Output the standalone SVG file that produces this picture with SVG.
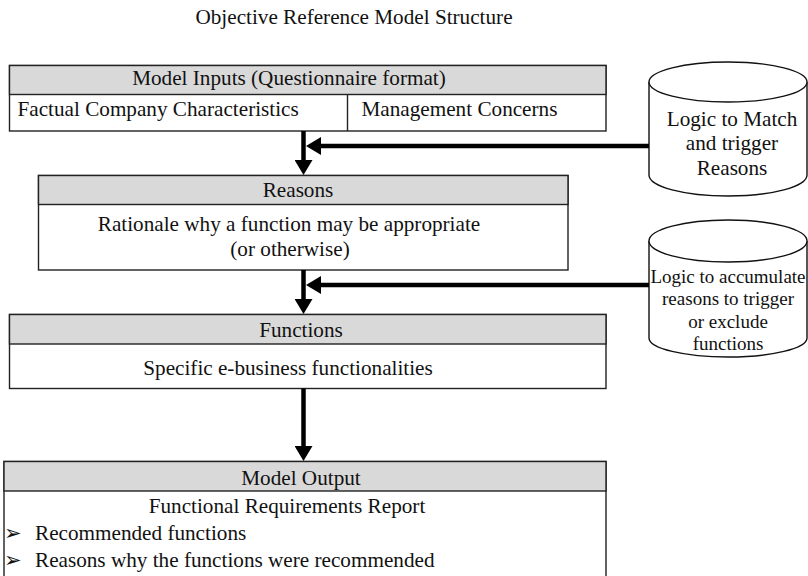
<svg xmlns="http://www.w3.org/2000/svg" width="808" height="576" viewBox="0 0 808 576">
<style>
text{font-family:"Liberation Serif","Times New Roman",serif;font-size:21.2px;fill:#111}
.c{text-anchor:middle}
.s{font-size:19px}
.box{fill:#fff;stroke:#222;stroke-width:1.4}
.hdr{fill:#d9d9d9;stroke:#222;stroke-width:1.4}
.ln{stroke:#222;stroke-width:1.4;fill:none}
.cyl{fill:#fff;stroke:#111;stroke-width:1.4}
.conn{stroke:#000;stroke-width:4.5;fill:none;marker-end:url(#ah)}
.bul{font-family:"DejaVu Sans",sans-serif;font-size:21px}
</style>
<defs>
<marker id="ah" viewBox="0 0 15 18" refX="7" refY="9" markerWidth="15" markerHeight="18" markerUnits="userSpaceOnUse" orient="auto">
<path d="M0,0 L15,9 L0,18 z" fill="#000"/>
</marker>
</defs>
<text id="title" class="c" x="354" y="24">Objective Reference Model Structure</text>

<g id="inputs">
<rect class="box" x="9.5" y="65.5" width="596.5" height="65.5"/>
<rect class="hdr" x="9.5" y="65.5" width="596.5" height="29"/>
<line class="ln" x1="347.5" y1="94.5" x2="347.5" y2="131"/>
<text class="c" x="289" y="85">Model Inputs (Questionnaire format)</text>
<text x="17.5" y="116">Factual Company Characteristics</text>
<text x="361.5" y="116">Management Concerns</text>
</g>

<g id="reasons">
<rect class="box" x="38.5" y="175.5" width="529.5" height="94.5"/>
<rect class="hdr" x="38.5" y="175.5" width="529.5" height="29"/>
<text class="c" x="298" y="197">Reasons</text>
<text class="c" x="289" y="231">Rationale why a function may be appropriate</text>
<text class="c" x="290" y="256">(or otherwise)</text>
</g>

<g id="functions">
<rect class="box" x="9.5" y="314.5" width="596.5" height="74"/>
<rect class="hdr" x="9.5" y="314.5" width="596.5" height="29.5"/>
<text class="c" x="301" y="337">Functions</text>
<text class="c" x="288" y="375">Specific e-business functionalities</text>
</g>

<g id="output">
<rect class="box" x="4" y="461.5" width="602" height="130"/>
<rect class="hdr" x="4" y="461.5" width="602" height="29.5"/>
<text class="c" x="301" y="484.5">Model Output</text>
<text class="c" x="287" y="513">Functional Requirements Report</text>
<text y="540"><tspan class="bul" x="4">➢</tspan><tspan x="35">Recommended functions</tspan></text>
<text y="567"><tspan class="bul" x="4">➢</tspan><tspan x="35">Reasons why the functions were recommended</tspan></text>
</g>

<g id="logic1">
<path class="cyl" d="M649,82 L649,175 A79,21 0 0 0 807,175 L807,82"/>
<ellipse class="cyl" cx="728" cy="82" rx="79" ry="20"/>
<text class="c" x="732" y="126">Logic to Match</text>
<text class="c" x="732" y="150">and trigger</text>
<text class="c" x="732" y="175">Reasons</text>
</g>

<g id="logic2">
<path class="cyl" d="M649,241 L649,338 A79,19 0 0 0 807,338 L807,241"/>
<ellipse class="cyl" cx="728" cy="241" rx="79" ry="21"/>
<text class="c s" x="728" y="283">Logic to accumulate</text>
<text class="c s" x="728" y="305">reasons to trigger</text>
<text class="c s" x="728" y="328">or exclude</text>
<text class="c s" x="728" y="350">functions</text>
</g>

<g id="connectors">
<line class="conn" x1="303.5" y1="131" x2="303.5" y2="167"/>
<line class="conn" x1="649" y1="146" x2="314" y2="146"/>
<line class="conn" x1="303.5" y1="270" x2="303.5" y2="306"/>
<line class="conn" x1="649" y1="285" x2="314" y2="285"/>
<line class="conn" x1="303.5" y1="388.5" x2="303.5" y2="453"/>
</g>
</svg>
